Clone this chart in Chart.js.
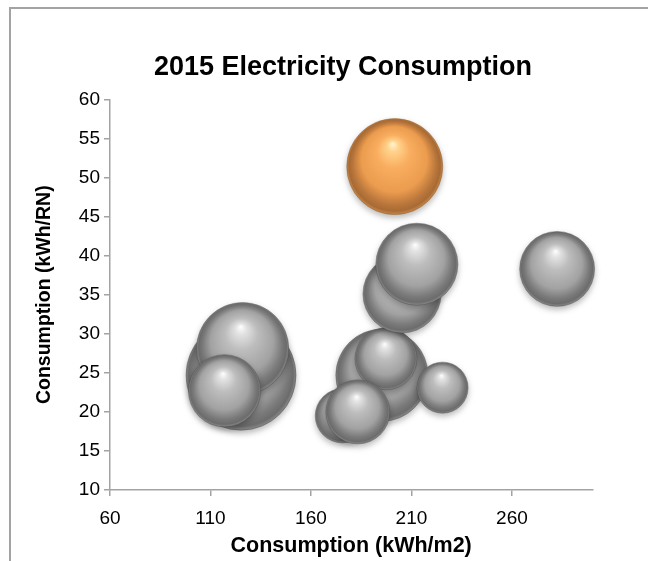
<!DOCTYPE html>
<html>
<head>
<meta charset="utf-8">
<title>2015 Electricity Consumption</title>
<script src="https://cdn.jsdelivr.net/npm/chart.js@4.4.1/dist/chart.umd.min.js"></script>
<style>
  html, body { margin: 0; padding: 0; background: #fff; overflow: hidden; }
  #frame { position: absolute; left: 9px; top: 7px; width: 760px; height: 700px;
           border: 2px solid #a3a3a3; box-sizing: border-box; }
  #wrap { position: absolute; left: 0; top: 0; width: 648px; height: 561px; }
</style>
</head>
<body>
<div id="frame"></div>
<div id="wrap"><canvas id="chart" width="648" height="561"></canvas></div>
<script>
// Axis ticks
const xTickValues = [60, 110, 160, 210, 260];
const yTickValues = [10, 15, 20, 25, 30, 35, 40, 45, 50, 55, 60];

// Hotels: consumption per m2 (x), per room night (y), bubble size
const kwhPerM2 = [125.2, 126.0, 117.0, 195.3, 197.3, 225.5, 175.6, 183.3, 205.3, 212.7, 282.5];
const kwhPerRN = [24.7, 28.1, 22.7, 24.7, 26.8, 23.1, 19.5, 20.0, 35.1, 38.9, 38.3];
const sizes    = [302, 212, 130, 212, 96, 65, 73, 102, 152, 168, 140];

// Highlighted hotel
const focusKwhPerM2 = [201.7];
const focusKwhPerRN = [51.4];
const focusSizes    = [230];

const MAX_RADIUS = 55;
const maxSize = Math.max(...sizes, ...focusSizes);
const radiusOf = s => MAX_RADIUS * Math.sqrt(s / maxSize);

const toPoints = (xs, ys, ss) => xs.map((x, i) => ({ x: x, y: ys[i], r: radiusOf(ss[i]) }));

const GRAY_STOPS = [
  [0, '#ffffff'], [0.12, '#e2e2e2'], [0.35, '#bdbdbd'], [0.68, '#a2a2a2'],
  [0.86, '#7a7a7a'], [0.95, '#6c6c6c'], [1, '#8c8c8c']
];
const ORANGE_STOPS = [
  [0, '#fff6cf'], [0.12, '#ffd28c'], [0.35, '#f9ad5e'], [0.68, '#eb9c4e'],
  [0.86, '#bb773c'], [0.95, '#a86b35'], [1, '#cc8a4a']
];

// Shaded sphere fill, placed with the chart's own scales
function sphereFill(stops) {
  return function (ctx) {
    const chart = ctx.chart;
    const raw = ctx.raw;
    if (!raw || !chart.chartArea || !chart.scales.x) return stops[3][1];
    const cx = chart.scales.x.getPixelForValue(raw.x);
    const cy = chart.scales.y.getPixelForValue(raw.y);
    const r = raw.r;
    const g = chart.ctx.createRadialGradient(cx - r * 0.04, cy - r * 0.48, 0, cx, cy, r);
    stops.forEach(([o, c]) => g.addColorStop(o, c));
    return g;
  };
}

// Soft drop shadow under the bubbles
const bubbleShadow = {
  id: 'bubbleShadow',
  beforeDatasetsDraw(chart) {
    const c = chart.ctx;
    c.save();
    c.shadowColor = 'rgba(0,0,0,0.28)';
    c.shadowBlur = 6;
    c.shadowOffsetY = 3;
  },
  afterDatasetsDraw(chart) { chart.ctx.restore(); }
};

Chart.defaults.font.family = '"Liberation Sans", Arial, sans-serif';
Chart.defaults.color = '#000';

const AXIS_GRAY = '#a3a3a3';
const PAD_LEFT = 38;

new Chart(document.getElementById('chart'), {
  type: 'bubble',
  data: {
    datasets: [
      {
        label: '2015',
        data: toPoints(focusKwhPerM2, focusKwhPerRN, focusSizes),
        backgroundColor: sphereFill(ORANGE_STOPS),
        borderColor: 'rgba(120,70,30,0.55)',
        borderWidth: 0.7,
        hoverRadius: 0,
        clip: false
      },
      {
        label: 'Hotels',
        data: toPoints(kwhPerM2, kwhPerRN, sizes),
        backgroundColor: sphereFill(GRAY_STOPS),
        borderColor: 'rgba(60,60,60,0.55)',
        borderWidth: 0.7,
        hoverRadius: 0,
        clip: false
      }
    ]
  },
  options: {
    responsive: false,
    devicePixelRatio: 1,
    animation: false,
    events: [],
    layout: { padding: { left: PAD_LEFT, right: 0, top: 0, bottom: 0 } },
    plugins: {
      legend: { display: false },
      tooltip: { enabled: false },
      title: {
        display: true,
        text: '2015 Electricity Consumption',
        color: '#000',
        font: { size: 27, weight: 'bold' },
        padding: { top: 51, bottom: 16 }
      }
    },
    scales: {
      x: {
        type: 'linear',
        position: 'bottom',
        min: 60,
        max: 300,
        afterBuildTicks: s => { s.ticks = xTickValues.map(v => ({ value: v })); },
        afterFit: s => { s.height = 71; },
        ticks: { font: { size: 19 }, color: '#000', padding: 11 },
        grid: { drawOnChartArea: false, drawTicks: true, tickLength: 6, color: AXIS_GRAY, lineWidth: 1.5 },
        border: { color: AXIS_GRAY, width: 1.5 },
        title: {
          display: true,
          text: 'Consumption (kWh/m2)',
          color: '#000',
          font: { size: 21.5, weight: 'bold' },
          padding: { top: 0, bottom: 2 }
        }
      },
      y: {
        type: 'linear',
        min: 10,
        max: 60,
        afterBuildTicks: s => { s.ticks = yTickValues.map(v => ({ value: v })); },
        afterFit: s => { s.width = 110 - PAD_LEFT; },
        ticks: { font: { size: 19 }, color: '#000', padding: 4 },
        grid: { drawOnChartArea: false, drawTicks: true, tickLength: 6, color: AXIS_GRAY, lineWidth: 1.5 },
        border: { color: AXIS_GRAY, width: 1.5 },
        title: {
          display: true,
          text: 'Consumption (kWh/RN)',
          color: '#000',
          font: { size: 19.5, weight: 'bold' },
          padding: { top: -5, bottom: 0 }
        }
      },
      // empty right-hand gutter that keeps the plot clear of the frame edge
      gutter: {
        type: 'linear',
        position: 'right',
        min: 0,
        max: 1,
        afterFit: s => { s.width = 38; },
        ticks: { display: false },
        grid: { display: false },
        border: { display: false }
      }
    }
  },
  plugins: [bubbleShadow]
});
</script>
</body>
</html>
